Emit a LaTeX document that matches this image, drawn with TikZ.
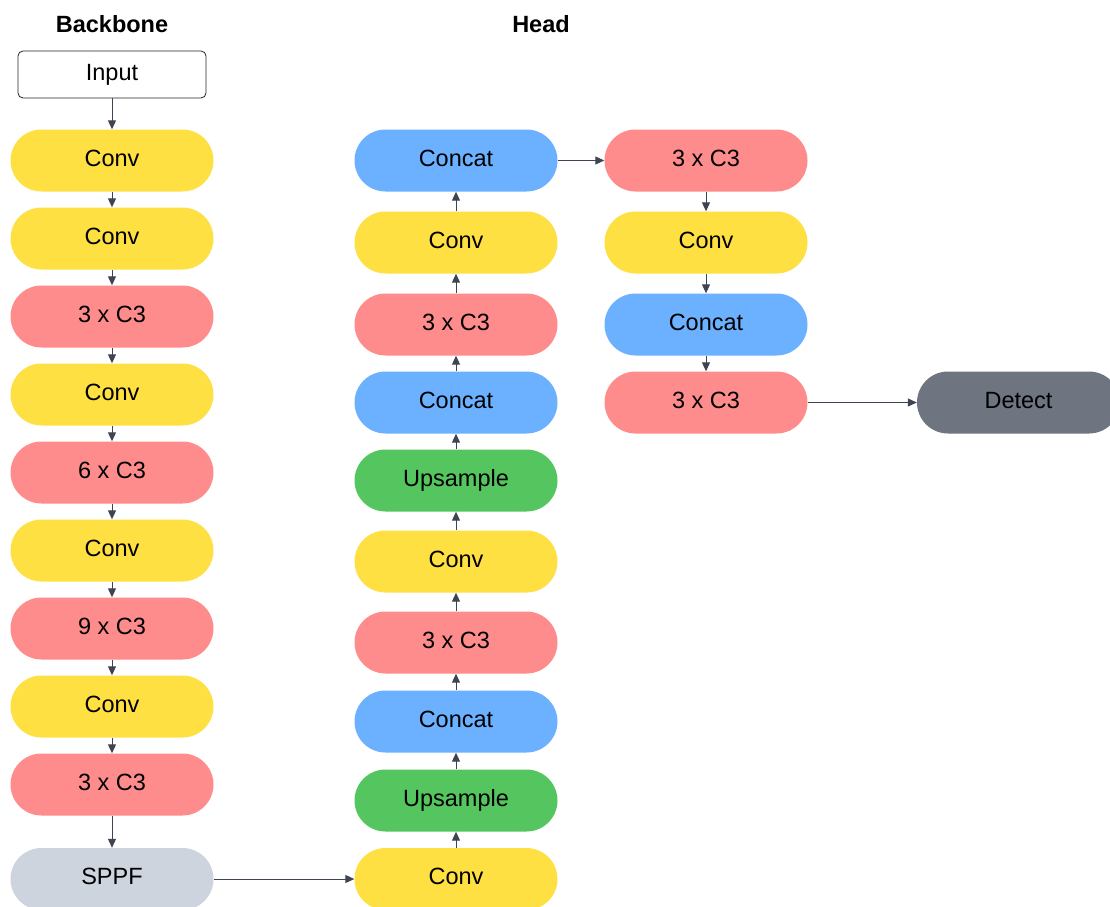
\documentclass[tikz,border=0pt]{standalone}
\usepackage{fontspec}
\setmainfont{Liberation Sans}
\usetikzlibrary{arrows.meta}
\definecolor{cyellow}{HTML}{FFE043}
\definecolor{cred}{HTML}{FF8C8C}
\definecolor{cblue}{HTML}{6CB1FF}
\definecolor{cgreen}{HTML}{55C560}
\definecolor{clight}{HTML}{CDD4DD}
\definecolor{cdark}{HTML}{6E7480}
\definecolor{cline}{HTML}{3E4451}
\begin{document}
\begin{tikzpicture}[x=1pt,y=-1pt,
  pill/.style={rectangle,rounded corners=31pt,minimum width=203pt,minimum height=62pt,
    inner sep=0pt,text height=17pt,text depth=6pt,
    font=\fontsize{23.5}{28}\selectfont,text=black},
  conv/.style={pill,fill=cyellow},
  cthree/.style={pill,fill=cred},
  cat/.style={pill,fill=cblue},
  ups/.style={pill,fill=cgreen},
  sppf/.style={pill,fill=clight},
  det/.style={pill,fill=cdark},
  inbox/.style={rectangle,rounded corners=5pt,draw=black!85,line width=0.8pt,
    minimum width=188pt,minimum height=47pt,inner sep=0pt,
    text height=17pt,text depth=6pt,
    font=\fontsize{23.5}{28}\selectfont},
  hdr/.style={font=\bfseries\fontsize{23.5}{28}\selectfont},
  link/.style={draw=cline,line width=1pt,-{Triangle[length=9pt,width=8pt]}}
]
\clip (0,0) rectangle (1110,906);
\fill[white] (0,0) rectangle (1110,906);

% titles
\node[hdr] (tb) at (112,24) {Backbone};
\node[hdr] (th) at (541,24) {Head};

% backbone column
\node[inbox] (in) at (112,74.5) {Input};
\node[conv]   (b1) at (112,160.5) {Conv};
\node[conv]   (b2) at (112,238.5) {Conv};
\node[cthree] (b3) at (112,316.5) {3 x C3};
\node[conv]   (b4) at (112,394.5) {Conv};
\node[cthree] (b5) at (112,472.5) {6 x C3};
\node[conv]   (b6) at (112,550.5) {Conv};
\node[cthree] (b7) at (112,628.5) {9 x C3};
\node[conv]   (b8) at (112,706.5) {Conv};
\node[cthree] (b9) at (112,784.5) {3 x C3};
\node[sppf]   (b10) at (112,879) {SPPF};

% head column, bottom to top
\node[conv]   (h1) at (456,879) {Conv};
\node[ups]    (h2) at (456,800.5) {Upsample};
\node[cat]    (h3) at (456,721.5) {Concat};
\node[cthree] (h4) at (456,642.5) {3 x C3};
\node[conv]   (h5) at (456,561.5) {Conv};
\node[ups]    (h6) at (456,480.5) {Upsample};
\node[cat]    (h7) at (456,402.5) {Concat};
\node[cthree] (h8) at (456,324.5) {3 x C3};
\node[conv]   (h9) at (456,242.5) {Conv};
\node[cat]    (h10) at (456,160.5) {Concat};

% output branch
\node[cthree] (o1) at (706,160.5) {3 x C3};
\node[conv]   (o2) at (706,242.5) {Conv};
\node[cat]    (o3) at (706,324.5) {Concat};
\node[cthree] (o4) at (706,402.5) {3 x C3};
\node[det]    (d)  at (1018.5,402.5) {Detect};

% connectors
\foreach \a/\b in {in/b1,b1/b2,b2/b3,b3/b4,b4/b5,b5/b6,b6/b7,b7/b8,b8/b9,b9/b10,
  h1/h2,h2/h3,h3/h4,h4/h5,h5/h6,h6/h7,h7/h8,h8/h9,h9/h10,
  o1/o2,o2/o3,o3/o4}
  \draw[link] (\a) -- (\b);
\draw[link] (b10) -- (h1);
\draw[link] (h10) -- (o1);
\draw[link] (o4) -- (d);
\end{tikzpicture}
\end{document}
